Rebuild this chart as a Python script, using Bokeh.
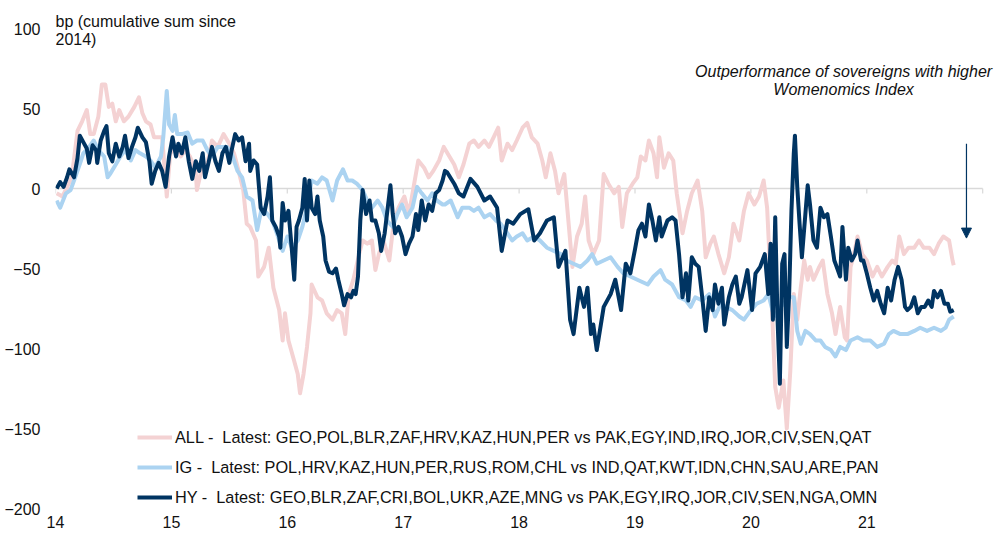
from bokeh.plotting import figure
from bokeh.models import Range1d, FixedTicker, Arrow, NormalHead, Legend, LegendItem
from bokeh.core.properties import value
from bokeh.embed import file_html
from bokeh.resources import INLINE

# ---------------- data (years as 2-digit decimal years, values in bp) ----------------
hy_year = [14.01,14.04,14.07,14.10,14.12,14.16,14.19,14.21,14.24,14.27,14.29,14.32,14.35,14.36,14.39,14.42,14.44,14.46,14.49,14.52,
           14.55,14.58,14.60,14.63,14.66,14.69,14.71,14.75,14.78,14.81,14.83,14.86,14.89,14.92,14.95,14.98,15.01,15.04,15.06,15.09,
           15.12,15.15,15.18,15.21,15.24,15.27,15.29,15.32,15.35,15.38,15.41,15.44,15.47,15.50,15.52,15.55,15.58,15.61,15.64,15.67,
           15.68,15.71,15.74,15.77,15.80,15.83,15.85,15.87,15.90,15.93,15.94,15.96,15.98,16.01,16.04,16.06,16.08,16.10,16.13,16.15,
           16.17,16.19,16.21,16.24,16.26,16.28,16.31,16.33,16.36,16.39,16.42,16.44,16.47,16.49,16.52,16.55,16.57,16.59,16.61,16.63,
           16.65,16.68,16.71,16.73,16.76,16.79,16.81,16.84,16.86,16.89,16.91,16.93,16.96,16.99,17.02,17.05,17.08,17.11,17.13,17.16,
           17.19,17.22,17.25,17.28,17.31,17.34,17.36,
           17.38,17.44,17.48,17.52,17.58,17.64,17.70,17.75,17.81,17.85,17.90,17.95,18.01,18.08,18.13,18.18,18.24,18.30,18.34,18.40,
           18.44,18.47,18.52,18.56,18.59,18.62,18.64,18.67,18.73,18.79,18.83,18.88,18.92,18.96,19.00,19.03,
           19.06,19.09,19.12,19.15,19.18,19.21,19.23,19.28,19.32,19.35,19.38,19.41,19.44,19.46,19.49,19.52,19.55,19.58,19.61,19.64,
           19.67,19.69,19.72,19.75,19.77,19.81,19.84,19.87,19.90,19.92,19.97,20.01,20.04,
           20.08,20.12,20.15,20.17,20.19,20.21,20.23,20.25,20.27,20.29,20.31,20.33,20.35,20.37,20.38,
           20.40,20.42,20.44,20.47,20.49,20.51,20.54,20.57,20.60,20.63,20.66,20.69,20.72,20.74,
           20.77,20.79,20.82,20.84,20.87,20.90,20.92,20.95,20.97,21.00,21.03,21.06,21.09,21.12,21.15,21.18,21.21,21.24,21.27,21.30,
           21.33,21.35,21.38,21.41,21.44,21.47,21.50,21.53,21.56,21.58,21.61,21.64,21.67,21.70,21.72,21.75]
hy_bp = [0,4,1,7,12,7,19,33,29,25,16,27,24,16,30,36,39,22,17,28,
         20,26,33,19,26,32,38,32,29,17,3,11,16,11,1,20,32,20,28,22,
         32,17,6,17,11,22,7,16,26,17,11,22,26,16,24,34,30,32,17,28,
         11,17.5,15,-12,-16,-5,7,-20,-24,-30,-37,-9,-20,-14,-39,-57,-24,-20,-12,6,
         -20,5,-12,-16,-5,-20,-30,-45,-52,-53,-50,-57,-66,-73,-66,-68,-64,-66,-55,-20,
         -1,-16,-7.5,-20,-20,-28,-39,-28,-16,2,-16,-28,-24,-30,-41,-34.5,-30,-16,-26,-7.5,
         -20,-10,-14,-3,-1,5,11,
         10,3,-3,-5,6,1,-7.5,-5,-12,-39,-20,-22,-16,-13,-32.5,-28,-20,-18,-49,-39,
         -82,-91,-62,-74,-62,-91,-85,-101,-74,-66,-57,-76,-47,-53,-38,-26,
         -22,-30,-10,-20,-32.5,-18,-30,-20,-18,-20,-41,-68,-53,-70,-43,-47,-49,-68,-89,-68,
         -76,-60,-72,-62,-85,-68,-60,-55,-72,-68,-51,-76,-53,
         -49,-41,-66,-34.5,-82,-18,-82,-122,-47,-41,-99,-66,-14,22,33,
         1,-22,-43,-16,2,-10,-32.5,-37,-12,-18,-16,-30,-45,-49,
         -55,-24,-57,-37,-45,-41,-32.5,-45,-45,-53,-62,-70,-64,-72,-78,-62,-70,-57,-49,-57,
         -74,-76,-74,-68,-78,-74,-74,-70,-74,-64,-68,-64,-72,-72,-77,-76]

ig_year = [14.01,14.04,14.09,14.13,14.17,14.22,14.24,14.29,14.33,14.37,14.42,14.45,14.47,14.52,14.56,14.60,14.65,14.69,14.73,14.78,
           14.82,14.86,14.91,14.93,14.96,14.98,15.01,15.03,15.05,15.09,15.14,15.18,15.22,15.27,15.31,15.35,15.40,15.44,15.48,15.52,
           15.57,15.61,15.65,
           15.70,15.74,15.78,15.83,15.87,15.91,15.96,16.00,16.04,16.09,16.13,16.17,16.21,16.26,16.30,16.34,16.39,16.43,16.48,16.52,
           16.56,16.60,16.65,16.69,16.73,16.78,16.82,16.86,16.91,16.95,16.99,17.03,17.08,17.12,17.16,17.21,17.25,17.29,17.34,
           17.36,17.41,17.47,17.51,17.57,17.61,17.65,17.70,17.75,17.80,17.84,17.90,17.94,17.98,18.03,18.07,18.13,18.18,18.24,18.30,
           18.36,18.41,18.47,18.53,18.59,18.63,18.67,18.73,18.79,18.85,18.90,18.96,19.02,
           19.11,19.16,19.22,19.26,19.32,19.38,19.44,19.48,19.52,19.58,19.64,19.69,19.74,19.78,19.84,19.90,19.94,20.00,20.05,20.11,
           20.15,20.20,20.24,20.28,20.33,20.37,20.40,20.43,20.47,20.51,20.56,20.60,20.64,20.69,20.73,
           20.77,20.82,20.86,20.92,20.97,21.03,21.09,21.15,21.19,21.23,21.29,21.35,21.41,21.46,21.52,21.58,21.64,21.68,21.71,21.75]
ig_bp = [-7.5,-12,-3,-1,7,17.5,22,26,30,24,20,7,9,15,20,24,17.5,24,22,20,
         17.5,13,20,32,61,40,36,46,34,34,35,28,30,30,24,20,26,26,26,22,
         11,7,-5,
         -7.5,-26,-12,-16,-20,-28,-39,-30,-37,-32.5,-24,-12,5,3,7,5,-7.5,5,12,5,
         5,3,-1,-7.5,-12,-7.5,-12,-20,-24,-16,-10,-18,-12,1,-3,-7.5,-3,-7.5,-10,
         -10,-7.5,-18,-12,-12,-14,-12,-18,-16,-20,-22,-28,-32.5,-30,-28,-32.5,-30,-32.5,-37,-39,
         -41,-45,-47,-49,-45,-41,-47,-45,-43,-49,-53,-55,-57,
         -60,-55,-51,-57,-60,-68,-70,-74,-68,-70,-66,-80,-72,-74,-76,-80,-82,-76,-72,-70,
         -66,-80,-76,-72,-68,-68,-89,-97,-89,-91,-95,-95,-99,-101,-105,
         -99,-101,-95,-93,-95,-95,-99,-97,-91,-89,-91,-91,-89,-87,-89,-87,-89,-87,-82,-80]

all_year = [14.01,14.06,14.10,14.14,14.19,14.23,14.27,14.30,14.33,14.37,14.40,14.43,14.46,14.49,14.52,14.55,14.59,14.63,14.68,14.72,
            14.75,14.78,14.82,14.85,14.88,14.92,14.95,14.96,14.99,15.04,15.08,15.12,15.16,15.21,15.22,15.27,15.31,15.35,15.40,15.45,
            15.50,15.54,15.58,15.62,15.65,
            15.68,15.73,15.75,15.80,15.84,15.88,15.93,15.96,15.98,16.01,16.06,16.09,16.11,16.14,16.17,16.20,16.21,16.26,16.30,16.34,
            16.39,16.43,16.47,16.50,16.53,16.57,16.62,16.65,16.69,16.73,16.76,16.79,16.83,16.88,16.92,16.96,17.01,17.05,17.09,17.13,
            17.18,17.22,17.26,17.31,17.35,
            17.44,17.48,17.52,17.57,17.61,17.65,17.70,17.74,17.78,17.82,17.85,17.90,17.94,17.98,18.03,18.07,18.11,18.16,18.20,18.23,
            18.27,18.31,18.34,18.39,18.41,18.46,18.50,18.54,18.57,18.60,18.64,18.69,18.73,18.77,18.82,18.86,18.89,18.93,18.98,19.02,
            19.05,19.09,19.12,19.16,19.19,19.21,19.25,19.29,19.33,19.36,19.41,19.45,19.49,19.54,19.58,19.61,19.65,19.68,19.72,19.77,
            19.81,19.85,19.90,19.94,19.98,20.03,20.07,
            20.11,20.14,20.18,20.21,20.24,20.28,20.31,20.34,20.37,20.40,20.43,20.46,20.49,20.51,20.54,20.59,20.62,20.66,20.70,20.73,
            20.77,20.81,20.83,20.86,20.89,20.92,20.96,21.00,21.05,21.09,21.13,21.18,21.22,21.25,21.28,21.32,21.36,21.41,21.45,21.49,
            21.54,21.58,21.62,21.66,21.71,21.74,21.75]
all_bp = [-3,-5,1,7,36,42,49,34,34,45,65,65,51,53,42,49,42,45,51,57,
          47,42,40,32,32,32,5,-5,22,26,20,24,20,11,-1,15,15,30,26,34,
          28,22,11,-1,-22,
          -24,-32.5,-55,-49,-37,-62,-76,-95,-78,-95,-108,-116,-128,-116,-99,-78,-60,-68,-70,-78,
          -82,-76,-78,-91,-66,-57,-41,-32.5,-34.5,-32.5,-51,-41,-32.5,-45,-20,-12,-5,-16,1,17.5,
          13,7,11,17.5,26,
          15,7,15,28,30,26,30,26,32,38,17.5,28,24,30,38,41,32,28,17.5,7,
          22,11,-3,9,-7.5,-49,-30,-22,-5,-32.5,-41,-32.5,9,3,-3,1,-24,-3,3,7,
          20,17.5,30,22,7,32,13,22,17.5,-3,-28,-14,-3,5,-14,-43,-34.5,-30,-41,-53,
          -43,-22,-32.5,-14,-3,-10,-5,
          5,-12,-72,-124,-137,-120,-150,-114,-66,-82,-62,-45,-57,-49,-57,-49,-45,-66,-78,-91,
          -74,-93,-95,-49,-41,-30,-41,-45,-55,-49,-55,-49,-45,-47,-30,-41,-37,-37,-32.5,-37,
          -37,-41,-34.5,-30,-32.5,-45,-48]

year_ticks = [14, 15, 16, 17, 18, 19, 20, 21]
axis_marks = [14, 15, 16, 17, 18, 19, 20, 21, 22]
y_ticks = [-200, -150, -100, -50, 0, 50, 100]

series_labels = [
    "ALL -\u00a0 Latest: GEO,POL,BLR,ZAF,HRV,KAZ,HUN,PER vs PAK,EGY,IND,IRQ,JOR,CIV,SEN,QAT",
    "IG -\u00a0 Latest: POL,HRV,KAZ,HUN,PER,RUS,ROM,CHL vs IND,QAT,KWT,IDN,CHN,SAU,ARE,PAN",
    "HY -\u00a0 Latest: GEO,BLR,ZAF,CRI,BOL,UKR,AZE,MNG vs PAK,EGY,IRQ,JOR,CIV,SEN,NGA,OMN",
]
y_title = ["bp (cumulative sum since", "2014)"]
note = ["Outperformance of sovereigns with higher", "Womenomics Index"]

# ---------------- styling ----------------
FONT = "Liberation Sans"
FS = "16px"
C_ALL = "#F4D2D3"
C_IG = "#ABD3F1"
C_HY = "#003462"
GRAY = "#D9D9D9"
TXT = "#111111"

p = figure(width=995, height=534, output_backend="svg", toolbar_location=None,
           x_range=Range1d(14, 22.1105), y_range=Range1d(-200, 117.5),
           min_border_left=55, min_border_right=0, min_border_top=0, min_border_bottom=26)
p.outline_line_color = None
p.xgrid.visible = False
p.ygrid.visible = False
p.background_fill_color = "white"

# zero line with small year tick marks
p.segment(x0=[axis_marks[0]], y0=[0], x1=[axis_marks[-1]], y1=[0], line_color=GRAY, line_width=1.5)
p.segment(x0=axis_marks, y0=[0] * len(axis_marks), x1=axis_marks, y1=[-3.2] * len(axis_marks),
          line_color=GRAY, line_width=1.2)

r_all = p.line(all_year, all_bp, line_color=C_ALL, line_width=4, line_join="round")
r_ig = p.line(ig_year, ig_bp, line_color=C_IG, line_width=4, line_join="round")
r_hy = p.line(hy_year, hy_bp, line_color=C_HY, line_width=4, line_join="round")

# axes
xa = p.xaxis[0]
xa.ticker = FixedTicker(ticks=year_ticks)
xa.axis_line_color = None
xa.major_tick_line_color = None
xa.minor_tick_line_color = None
xa.major_tick_in = 0
xa.major_tick_out = 0
xa.major_label_standoff = 7
xa.major_label_text_font = FONT
xa.major_label_text_font_size = FS
xa.major_label_text_color = TXT

ya = p.yaxis[0]
ya.ticker = FixedTicker(ticks=y_ticks)
ya.axis_line_color = None
ya.major_tick_line_color = None
ya.minor_tick_line_color = None
ya.major_tick_in = 0
ya.major_tick_out = 0
ya.major_label_standoff = 15
ya.major_label_text_font = FONT
ya.major_label_text_font_size = FS
ya.major_label_text_color = TXT

# y-axis title (two lines, top-left)
p.text(x=[14.0, 14.0], y=[104.5, 93.2], text=y_title, text_font=value(FONT),
       text_font_size=FS, text_align="left", text_baseline="middle", text_color=TXT)

# annotation
p.text(x=[20.80, 20.80], y=[73.0, 61.8], text=note, text_font=value(FONT),
       text_font_size=FS, text_font_style="italic", text_align="center",
       text_baseline="middle", text_color=TXT)

arrow_x = 21.86
p.add_layout(Arrow(end=NormalHead(size=10, fill_color=C_HY, line_color=C_HY),
                   x_start=arrow_x, y_start=28, x_end=arrow_x, y_end=-31,
                   line_color=C_HY, line_width=1.2))

legend = Legend(items=[LegendItem(label=series_labels[0], renderers=[r_all]),
                       LegendItem(label=series_labels[1], renderers=[r_ig]),
                       LegendItem(label=series_labels[2], renderers=[r_hy])],
                location=(82, 1), orientation="vertical")
legend.border_line_color = None
legend.background_fill_alpha = 0
legend.padding = 0
legend.margin = 0
legend.spacing = 10
legend.glyph_width = 35
legend.glyph_height = 20
legend.label_height = 20
legend.label_standoff = 3
legend.label_text_font = FONT
legend.label_text_font_size = "16.3px"
legend.label_text_color = TXT
p.add_layout(legend)

open("out.html", "w").write(file_html(p, INLINE))
